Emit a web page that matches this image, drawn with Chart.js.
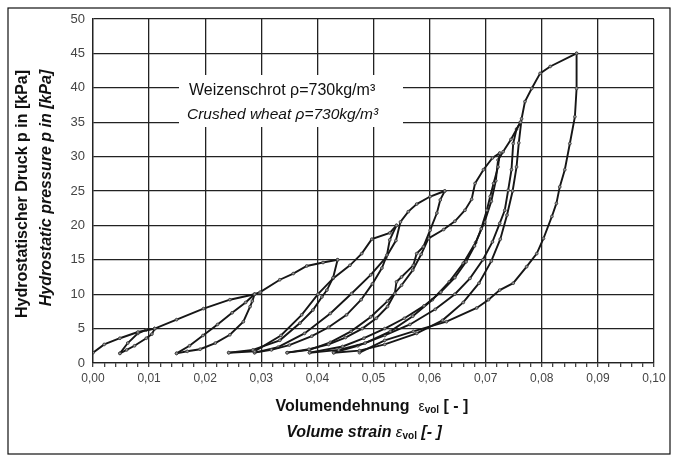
<!DOCTYPE html>
<html>
<head>
<meta charset="utf-8">
<script src="https://cdn.jsdelivr.net/npm/chart.js@4.4.1/dist/chart.umd.min.js"></script>
<style>
  html, body { margin: 0; padding: 0; background: #fff; }
  #chart { display: block; }
</style>
</head>
<body>
<canvas id="chart" width="678" height="461"></canvas>
<script>
// Achsenbeschriftung
const xTickLabels = ['0,00', '0,01', '0,02', '0,03', '0,04', '0,05', '0,06', '0,07', '0,08', '0,09', '0,10'];
const yTickLabels = ['0', '5', '10', '15', '20', '25', '30', '35', '40', '45', '50'];

// Messpunkte [eps_vol, p in kPa] - Erstbelastung, dann Ent-/Wiederbelastung je Stufe
const load0 = [[0, 1.5], [0.002, 2.7], [0.0048, 3.6], [0.008, 4.5], [0.011, 5.0]];
const unload5 = [[0.011, 5.0], [0.0105, 4.2], [0.0095, 3.6], [0.0074, 2.5], [0.006, 1.9], [0.0048, 1.4]];
const reload5 = [[0.0048, 1.4], [0.0062, 2.9], [0.008, 4.3], [0.0095, 4.8], [0.011, 5.0], [0.0149, 6.3],
  [0.0197, 7.9], [0.0244, 9.2], [0.0288, 10.0]];
const unload10 = [[0.0288, 10.0], [0.0284, 9.0], [0.028, 8.2], [0.0268, 6.0], [0.0244, 4.1], [0.0218, 2.9],
  [0.0191, 2.0], [0.0168, 1.7], [0.0149, 1.4]];
const reload10 = [[0.0149, 1.4], [0.0172, 2.5], [0.0196, 4.0], [0.0222, 5.6], [0.0248, 7.3], [0.0272, 8.8],
  [0.0288, 10.0], [0.0298, 10.3], [0.0333, 12.1], [0.0357, 13.0], [0.0381, 14.1], [0.041, 14.6], [0.0436, 15.0]];
const unload15 = [[0.0436, 15.0], [0.0428, 12.4], [0.0417, 10.6], [0.0408, 9.6], [0.0392, 7.7], [0.0369, 5.8],
  [0.0333, 3.3], [0.0285, 1.9], [0.0242, 1.5]];
const reload15 = [[0.0242, 1.5], [0.0288, 1.7], [0.0335, 4.0], [0.0372, 7.0], [0.0401, 10.0], [0.0428, 12.3],
  [0.0458, 14.2], [0.0479, 15.9], [0.0497, 18.0], [0.0529, 18.9], [0.0541, 20.0]];
const unload20 = [[0.0541, 20.0], [0.0529, 17.9], [0.0524, 15.7], [0.0515, 13.8], [0.0498, 11.5], [0.0478, 9.2],
  [0.0452, 7.0], [0.042, 5.2], [0.039, 3.9], [0.035, 2.6], [0.0318, 1.9], [0.0288, 1.5]];
const reload20 = [[0.0288, 1.5], [0.033, 2.3], [0.0377, 4.3], [0.0423, 7.2], [0.0461, 10.1], [0.0495, 12.8],
  [0.0522, 15.3], [0.054, 17.8], [0.0548, 20.5], [0.0562, 22.0], [0.0577, 23.1], [0.0601, 24.2], [0.0627, 25.0]];
const unload25 = [[0.0627, 25.0], [0.0619, 23.7], [0.0613, 21.8], [0.0601, 19.3], [0.0589, 16.9], [0.0577, 15.9],
  [0.0571, 14.2], [0.055, 12.5], [0.0541, 11.8], [0.0538, 10.1], [0.0525, 8.2], [0.0505, 6.5], [0.048, 5.0],
  [0.045, 3.7], [0.042, 2.7], [0.0385, 2.0], [0.0346, 1.5]];
const reload25 = [[0.0346, 1.5], [0.0386, 1.9], [0.0423, 3.0], [0.046, 4.6], [0.0495, 6.7], [0.0525, 9.0],
  [0.055, 11.3], [0.057, 13.5], [0.0585, 15.8], [0.0598, 18.1], [0.0625, 19.4], [0.0645, 20.6], [0.0663, 22.2],
  [0.0675, 23.8], [0.0681, 26.1], [0.0696, 28.1], [0.0712, 29.8], [0.0725, 30.5]];
const unload30 = [[0.0725, 30.5], [0.0722, 28.5], [0.0714, 26.1], [0.0708, 24.2], [0.0702, 22.2], [0.0692, 19.5],
  [0.068, 17.0], [0.0665, 14.7], [0.0645, 12.4], [0.062, 10.3], [0.059, 8.3], [0.0555, 6.5], [0.052, 5.0],
  [0.0483, 3.6], [0.0445, 2.4], [0.0386, 1.5]];
const reload30 = [[0.0386, 1.5], [0.0438, 1.9], [0.0485, 2.9], [0.053, 4.6], [0.057, 6.8], [0.0605, 9.2],
  [0.0635, 11.8], [0.066, 14.5], [0.0682, 17.5], [0.0698, 20.5], [0.071, 23.5], [0.0718, 26.5], [0.0722, 29.5],
  [0.0731, 30.7], [0.0745, 32.5], [0.0762, 35.0]];
const unload35 = [[0.0762, 35.0], [0.0755, 34.0], [0.0749, 31.9], [0.0746, 28.1], [0.074, 25.1], [0.0734, 22.2],
  [0.0725, 20.3], [0.0712, 17.6], [0.0695, 15.0], [0.0672, 12.3], [0.0645, 10.0], [0.061, 7.8], [0.0565, 5.6],
  [0.052, 4.0], [0.0472, 2.5], [0.0429, 1.5]];
const reload35 = [[0.0429, 1.5], [0.0475, 1.8], [0.052, 2.7], [0.0577, 4.3], [0.0623, 6.2], [0.066, 8.8],
  [0.0688, 11.6], [0.071, 14.8], [0.0726, 18.0], [0.0738, 21.5], [0.0748, 25.0], [0.0755, 28.5], [0.0759, 32.0],
  [0.0764, 35.5], [0.077, 38.0], [0.0782, 39.9], [0.0797, 42.1], [0.0815, 43.1], [0.0862, 45.0]];
const unload45 = [[0.0862, 45.0], [0.0862, 39.9], [0.0859, 35.8], [0.085, 31.9], [0.0841, 28.1], [0.0832, 25.6],
  [0.0826, 23.2], [0.0818, 21.3], [0.0803, 18.1], [0.0791, 15.9], [0.0773, 14.0], [0.0749, 11.6], [0.0725, 10.6],
  [0.0705, 9.2], [0.0684, 8.0], [0.063, 6.0], [0.0571, 4.6], [0.052, 3.3], [0.0475, 1.5]];

const segments = [load0, unload5, reload5, unload10, reload10, unload15, reload15, unload20, reload20,
  unload25, reload25, unload30, reload30, unload35, reload35, unload45];

const isMajor = v => Math.round(v * 500) % 5 === 0;

// Rahmen, Textfeld und Achsentitel
const extras = {
  id: 'extras',
  beforeDatasetsDraw(chart) {
    const ctx = chart.ctx;
    ctx.save();
    ctx.fillStyle = '#fff';
    ctx.fillRect(179, 75, 224, 52);
    ctx.fillStyle = '#111';
    ctx.textBaseline = 'alphabetic';
    ctx.textAlign = 'left';
    ctx.font = '16px "Liberation Sans", Arial, sans-serif';
    ctx.fillText('Weizenschrot ρ=730kg/m³', 189, 95);
    ctx.font = 'italic 15.5px "Liberation Sans", Arial, sans-serif';
    ctx.fillText('Crushed wheat ρ=730kg/m³', 187, 119);
    ctx.restore();
  },
  afterDraw(chart) {
    const ctx = chart.ctx;
    ctx.save();
    ctx.strokeStyle = '#111';
    ctx.lineWidth = 1.2;
    ctx.strokeRect(8, 8, 662, 446);

    ctx.fillStyle = '#111';
    ctx.textBaseline = 'middle';
    ctx.textAlign = 'center';
    // y-Titel
    ctx.save();
    ctx.translate(23, 194);
    ctx.rotate(-Math.PI / 2);
    ctx.font = 'bold 16px "Liberation Sans", Arial, sans-serif';
    ctx.fillText('Hydrostatischer Druck p in [kPa]', 0, 0);
    ctx.restore();
    ctx.save();
    ctx.translate(47, 188);
    ctx.rotate(-Math.PI / 2);
    ctx.font = 'bold italic 16px "Liberation Sans", Arial, sans-serif';
    ctx.fillText('Hydrostatic pressure p in [kPa]', 0, 0);
    ctx.restore();

    // x-Titel mit Index
    const drawRuns = (runs, cx, y) => {
      ctx.textAlign = 'left';
      let w = 0;
      runs.forEach(r => { ctx.font = r.font; w += ctx.measureText(r.text).width; });
      let x = cx - w / 2;
      runs.forEach(r => {
        ctx.font = r.font;
        ctx.fillText(r.text, x, y + (r.dy || 0));
        x += ctx.measureText(r.text).width;
      });
    };
    const f = '"Liberation Sans", Arial, sans-serif';
    drawRuns([
      { text: 'Volumendehnung  ', font: 'bold 16px ' + f },
      { text: 'ε', font: '14px ' + f },
      { text: 'vol', font: 'bold 10px ' + f, dy: 3 },
      { text: ' [ - ]', font: 'bold 16px ' + f }
    ], 372, 407);
    drawRuns([
      { text: 'Volume strain ', font: 'bold italic 16px ' + f },
      { text: 'ε', font: 'italic 15px ' + f },
      { text: 'vol', font: 'bold 10px ' + f, dy: 3 },
      { text: ' [- ]', font: 'bold italic 16px ' + f }
    ], 364, 433);
    ctx.restore();
  }
};

new Chart(document.getElementById('chart'), {
  type: 'scatter',
  data: {
    datasets: segments.map(seg => ({
      data: seg.map(([x, y]) => ({ x, y })),
      showLine: true,
      borderColor: '#161616',
      borderWidth: 1.9,
      pointRadius: 1.4,
      pointBorderWidth: 0.8,
      pointBorderColor: '#333',
      pointBackgroundColor: '#999',
      tension: 0
    }))
  },
  options: {
    responsive: false,
    animation: false,
    layout: { padding: { top: 19, right: 24, left: 0, bottom: 0 } },
    plugins: { legend: { display: false }, tooltip: { enabled: false } },
    scales: {
      x: {
        type: 'linear',
        min: 0,
        max: 0.1,
        afterFit: s => { s.height = 98; },
        afterBuildTicks: s => {
          s.ticks = [];
          for (let i = 0; i <= 50; i++) s.ticks.push({ value: i * 0.002 });
        },
        ticks: {
          autoSkip: false,
          maxRotation: 0,
          padding: 4,
          color: '#444',
          font: { family: '"Liberation Sans", Arial, sans-serif', size: 12 },
          callback: v => isMajor(v) ? xTickLabels[Math.round(v * 100)] : ''
        },
        grid: {
          color: c => (c.tick && isMajor(c.tick.value)) ? '#222' : 'rgba(0,0,0,0)',
          lineWidth: 1.3,
          tickColor: '#444',
          tickLength: 4
        },
        border: { color: '#222', width: 1.3 }
      },
      y: {
        type: 'linear',
        min: 0,
        max: 50,
        afterFit: s => { s.width = 93; },
        ticks: {
          stepSize: 5,
          padding: 8,
          color: '#444',
          font: { family: '"Liberation Sans", Arial, sans-serif', size: 13 },
          callback: v => yTickLabels[Math.round(v / 5)]
        },
        grid: { color: '#222', lineWidth: 1.3, drawTicks: false },
        border: { color: '#222', width: 1.3 }
      }
    }
  },
  plugins: [extras]
});
</script>
</body>
</html>
